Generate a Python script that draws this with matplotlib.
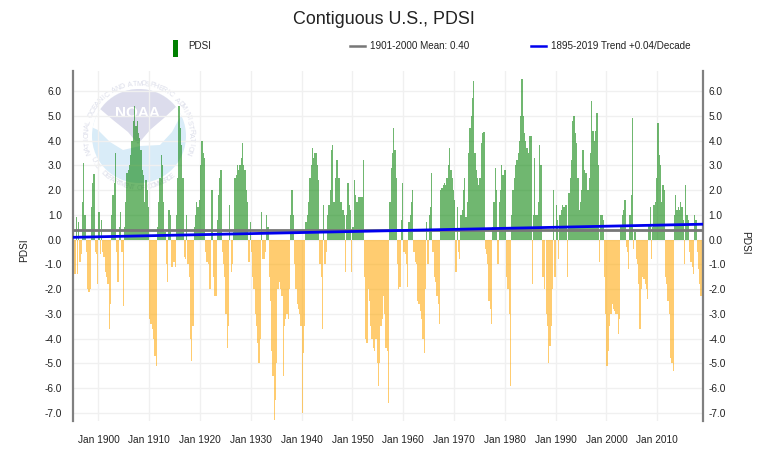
import math
import numpy as np
import matplotlib
matplotlib.use("Agg")
import matplotlib.pyplot as plt
from matplotlib.patches import Circle, Polygon

plt.rcParams['font.family'] = ['Liberation Sans', 'DejaVu Sans']

START_YEAR = 1895
# PDSI, four values per year
pdsi = [
 1.5,-1.4,0.9,-1.4,  0.7,-0.9,-0.6,1.5,  3.1,1.0,-0.5,-2.0,  -2.1,-2.0,1.3,2.3,  2.65,-0.5,-0.6,-1.8,
 1.1,-0.6,0.8,-0.5,  -0.7,-1.3,-1.5,-1.8,  -3.6,-2.6,1.0,1.8,  2.3,3.5,-0.5,-1.7,  0.5,1.1,-0.5,-2.7,
 0.5,1.5,2.7,2.8,  3.0,3.4,4.0,4.8,  5.4,4.6,4.8,4.3,  4.1,3.6,2.8,2.6,  1.5,2.4,2.0,1.3,
 -3.2,-3.4,-3.6,-4.0,  -4.7,-5.1,0.5,1.5,  2.5,3.4,3.0,1.5,  0.3,-1.0,-1.7,1.2,  1.0,-1.1,-1.1,-0.9,
 -1.1,1.0,2.5,5.4,  4.5,3.8,2.5,-0.7,  -0.8,1.0,-1.0,-1.5,  -4.0,-4.9,-3.5,0.5,  1.0,1.5,1.3,1.6,
 3.0,4.0,3.5,3.3,  -0.5,-0.9,-1.0,-2.0,  -2.0,2.0,-1.5,-2.3,  -2.3,0.8,1.8,2.5,  2.8,-0.5,-1.0,-1.5,
 -3.0,-4.4,-3.5,1.4,  -1.3,-1.0,0.3,2.5,  2.6,3.0,2.8,3.0,  3.3,3.9,3.0,2.8,  2.0,1.5,-0.9,0.7,
 -0.5,-1.5,-2.0,-3.0,  -3.5,-4.2,-5.0,-4.0,  1.1,-0.8,-0.8,-0.5,  1.0,0.5,-1.5,-2.5,  -4.5,-5.5,-7.3,-6.5,
 -5.0,-2.0,-1.7,-2.0,  -2.3,-5.5,-3.5,-3.2,  -3.0,-3.2,-2.0,1.0,  2.0,1.0,-1.0,-2.0,  -2.6,-2.8,-3.0,-3.5,
 -7.0,-4.6,-3.5,0.7,  1.0,1.5,2.5,3.0,  3.7,3.3,3.5,3.5,  3.0,2.4,-1.0,-1.5,  -3.6,1.4,-1.0,-0.5,
 1.0,1.4,2.0,3.6,  3.8,1.5,2.5,3.2,  3.2,2.5,1.5,1.5,  1.2,1.0,-1.3,1.0,  2.3,1.4,1.2,-1.3,
 0.5,2.4,1.8,1.5,  1.7,1.7,1.7,1.7,  3.2,-1.5,-4.0,-4.2,  -2.0,-2.5,-3.5,-4.0,  -4.4,-4.5,-4.0,-5.0,
 -5.9,-5.0,-3.5,-3.2,  -2.3,-3.0,-4.4,-4.5,  -6.6,1.5,2.9,3.5,  4.5,3.6,2.5,-1.0,  -2.0,-1.9,0.8,2.3,
 -0.5,-0.6,-1.0,-1.9,  0.7,1.0,1.5,2.0,  -0.5,-0.9,-1.0,-2.5,  -2.6,-2.9,-3.2,-4.0,  -4.6,-2.0,0.7,-1.0,
 1.0,1.3,2.7,-0.5,  -1.5,-1.7,-2.3,-2.6,  -3.4,2.0,2.1,2.2,  2.3,2.2,2.5,3.0,  3.7,2.8,2.5,2.0,
 1.6,-1.3,1.3,-0.5,  -0.8,1.0,1.2,2.0,  2.5,0.9,1.5,3.5,  4.5,5.0,5.7,6.4,  3.5,2.8,2.5,2.2,
 2.5,3.9,4.3,4.35,  -0.4,-0.6,-1.0,-2.5,  -2.8,-3.4,0.5,1.5,  2.9,2.0,-1.0,1.5,  2.0,3.0,2.6,2.8,
 2.8,-1.5,-2.0,-3.0,  -5.9,1.0,2.0,2.5,  3.0,3.2,3.5,4.0,  5.0,6.5,5.0,4.3,  4.0,3.7,3.5,4.2,
 4.2,-1.8,1.0,3.3,  1.0,1.0,1.5,3.8,  3.0,-1.5,-1.5,-2.0,  -3.0,-3.5,-5.0,-4.3,  -3.5,-2.0,2.0,-1.5,
 1.4,0.8,-0.8,1.0,  1.2,1.4,1.3,1.4,  1.4,-1.5,1.9,2.5,  3.2,4.8,5.0,4.3,  3.9,2.5,1.2,1.5,
 2.0,3.6,2.8,2.7,  2.7,2.0,2.5,3.5,  5.6,4.4,4.0,4.4,  5.1,3.0,-0.9,1.0,  1.0,0.8,-1.5,-3.0,
 -5.1,-4.5,-3.5,-3.0,  -2.6,-2.8,-2.9,-3.0,  -3.0,-3.8,-3.2,0.5,  1.0,1.2,1.6,-0.3,  -0.5,-1.2,1.0,1.8,
 4.9,-0.4,0.3,-0.8,  -1.0,-1.8,-3.6,-2.0,  -1.5,-1.6,-1.8,-2.0,  -2.4,0.6,1.3,-0.8,  0.5,1.4,1.5,2.5,
 4.7,3.4,3.0,1.5,  2.2,2.0,-1.5,-1.8,  -2.5,-3.0,-4.8,-5.0,  -5.3,1.0,1.8,1.2,  1.3,1.2,1.5,1.3,
 0.8,-1.0,2.2,1.0,  0.8,-0.5,-0.9,-1.1,  -1.4,1.0,0.8,-0.5,  -1.2,-1.8,-2.3,3.7,
]
mean_years = [1895, 2019]
mean_values = [0.40, 0.40]
trend_years = [1895, 2019]
trend_values = [0.09, 0.62]
x_tick_years = list(range(1900, 2011, 10))
x_tick_labels = [f"Jan {y}" for y in x_tick_years]
y_ticks = [-7, -6, -5, -4, -3, -2, -1, 0, 1, 2, 3, 4, 5, 6]

W, H = 768, 453
fig = plt.figure(figsize=(W / 100, H / 100), dpi=100, facecolor='white')

def rect(l, t, r, b):
    return [l / W, 1 - b / H, (r - l) / W, (b - t) / H]

# Watermark (pixel coordinates)
wm = fig.add_axes([0, 0, 1, 1], zorder=0)
wm.set_xlim(0, W); wm.set_ylim(H, 0); wm.axis('off')
cx, cy, R = 139, 136, 47
disc = Circle((cx, cy), R, fc='#d9ecf8', ec='none')
wm.add_patch(disc)
white = Polygon([(80, 70), (198, 70), (198, 117), (180, 117), (172, 132), (160, 145),
                 (140, 146), (123, 150), (110, 142), (98, 130), (80, 122)],
                closed=True, fc='white', ec='none')
wm.add_patch(white)
white.set_clip_path(disc)
purple = Polygon([(99, 108), (105, 70), (175, 70), (178, 105), (164, 118), (150, 130),
                  (138, 144), (128, 132), (113, 120)],
                 closed=True, fc='#dcdcec', ec='none')
wm.add_patch(purple)
purple.set_clip_path(disc)
wm.text(137, 113, 'NOAA', color='white', ha='center', va='center', fontsize=11, fontweight='bold')

def ring(text, a0, a1, rad, flip=False):
    n = len(text)
    for i, ch in enumerate(text):
        a = math.radians(a0 + (a1 - a0) * i / (n - 1))
        x = cx + rad * math.cos(a)
        y = cy - rad * math.sin(a)
        rot = math.degrees(a) + (90 if flip else -90)
        wm.text(x, y, ch, color='#dcdeea', fontsize=5.2, ha='center', va='center', rotation=rot)

ring('NATIONAL OCEANIC AND ATMOSPHERIC ADMINISTRATION', 198, -18, 52)
ring('U.S. DEPARTMENT OF COMMERCE', 207, 310, 52, flip=True)

# Main axes
ax = fig.add_axes(rect(73, 71, 703, 420.7), zorder=1)
ax.patch.set_alpha(0)
values = np.array(pdsi)
years = START_YEAR + np.arange(len(values)) * 0.25
pos = values >= 0
ax.bar(years[pos], values[pos], width=0.25, align='edge', color='#008000', alpha=0.56, lw=0,
       zorder=2, antialiased=False)
ax.bar(years[~pos], values[~pos], width=0.25, align='edge', color='#ffa500', alpha=0.56, lw=0,
       zorder=2, antialiased=False)
ax.plot(mean_years, mean_values, color='#777777', lw=2.0, zorder=3, solid_capstyle='butt')
ax.plot(trend_years, trend_values, color='#0000ee', lw=2.0, zorder=4, solid_capstyle='butt')

ax.set_xlim(1895, 2019)
ax.set_ylim(-7.32, 6.81)
ax.set_xticks(x_tick_years)
ax.set_xticklabels(x_tick_labels)
ax.set_yticks(y_ticks)
ax.set_yticklabels([f"{v:.1f}" for v in y_ticks])
ax.grid(True, color='#f0f0f0', lw=1.0, zorder=0)
ax.set_axisbelow(True)
ax.tick_params(axis='x', length=0, labelsize=7.3, pad=10, colors='#222222')
ax.tick_params(axis='y', length=0, labelsize=7.3, pad=8, colors='#222222')
for s in ('top', 'bottom'):
    ax.spines[s].set_visible(False)
for s in ('left', 'right'):
    ax.spines[s].set_color('#808080')
    ax.spines[s].set_linewidth(1.6)

ax_right = ax.twinx()
ax_right.set_ylim(ax.get_ylim())
ax_right.set_yticks(y_ticks)
ax_right.set_yticklabels([f"{v:.1f}" for v in y_ticks])
ax_right.tick_params(axis='y', length=0, labelsize=7.3, pad=4, colors='#222222')
for s in ('top', 'bottom', 'left', 'right'):
    ax_right.spines[s].set_visible(False)

fig.text(24 / W, 1 - 250 / H, 'PDSI', rotation=90, ha='center', va='center', fontsize=7.3, color='#222222')
fig.text(745 / W, 1 - 243 / H, 'PDSI', rotation=-90, ha='center', va='center', fontsize=7.3, color='#222222')
fig.text(384 / W, 1 - 20 / H, 'Contiguous U.S., PDSI', ha='center', va='center', fontsize=12.9, color='#222222')

# Legend
top = fig.add_axes([0, 0, 1, 1], zorder=2)
top.set_xlim(0, W); top.set_ylim(H, 0); top.axis('off')
top.fill_between([173, 178], 40, 57, color='#008000', lw=0)
top.text(188, 46, 'PDSI', fontsize=7.15, va='center', color='#222222')
top.plot([350, 365], [46, 46], color='#777777', lw=1.8)
top.text(370, 46, '1901-2000 Mean: 0.40', fontsize=7.15, va='center', color='#222222')
top.plot([531, 546], [46, 46], color='#0000ee', lw=1.8)
top.text(551, 46, '1895-2019 Trend +0.04/Decade', fontsize=7.15, va='center', color='#222222')

fig.savefig('out.png', dpi=100)
